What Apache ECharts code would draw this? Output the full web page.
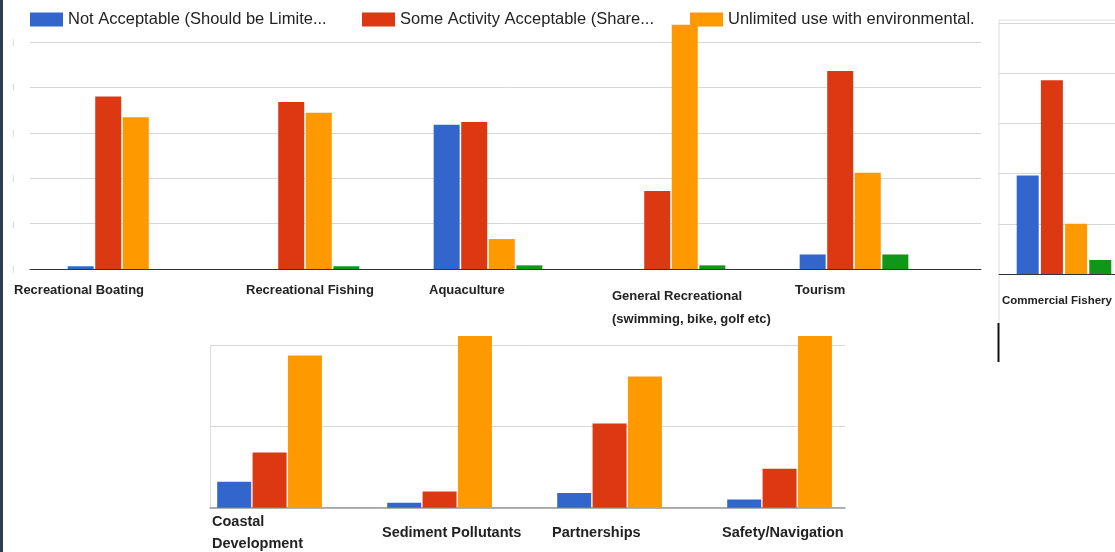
<!DOCTYPE html>
<html>
<head>
<meta charset="utf-8">
<script src="https://cdn.jsdelivr.net/npm/echarts@6/dist/echarts.min.js"></script>
<style>
  html, body { margin: 0; padding: 0; background: #fff; }
  #chart { width: 1115px; height: 552px; }
</style>
</head>
<body>
<div id="chart"></div>
<script>
// series names as shown (truncated) in the legend
const seriesNames = [
    'Not Acceptable (Should be Limite...',
    'Some Activity Acceptable (Share...',
    'Unlimited use with environmental.',
    'Other'
];
const colors = ['#3366cc', '#dc3912', '#ff9900', '#109618'];

// top panel
const categoriesTop = [
    'Recreational Boating',
    'Recreational Fishing',
    'Aquaculture',
    'General Recreational\n(swimming, bike, golf etc)',
    'Tourism'
];
const notAcceptableTop = [0.3, 0, 15.9, 0, 1.6];
const someActivityTop = [19.0, 18.4, 16.2, 8.6, 21.8];
const unlimitedTop = [16.7, 17.2, 3.3, 26.9, 10.6];
const otherTop = [0, 0.3, 0.4, 0.4, 1.6];

// right panel (cut off)
const categoriesRight = ['Commercial Fishery'];
const notAcceptableRight = [9.8];
const someActivityRight = [19.3];
const unlimitedRight = [5.0];
const otherRight = [1.4];

// bottom panel
const categoriesBottom = ['Coastal\nDevelopment', 'Sediment Pollutants', 'Partnerships', 'Safety/Navigation'];
const notAcceptableBottom = [1.6, 0.3, 0.9, 0.5];
const someActivityBottom = [3.4, 1.0, 5.2, 2.4];
const unlimitedBottom = [9.4, 10.6, 8.1, 10.6];
const otherBottom = [0, 0, 0, 0];

const font = 'Liberation Sans, Arial, sans-serif';
const gridLine = '#d6d6d6';

const chart = echarts.init(document.getElementById('chart'), null, { renderer: 'canvas' });

const hiddenAxis = {
    axisLine: { show: false },
    axisTick: { show: false },
    axisLabel: { show: false },
    splitLine: { show: false }
};

function bars(values, idx, axis, width, gap) {
    return {
        name: seriesNames[idx],
        type: 'bar',
        xAxisIndex: axis,
        yAxisIndex: axis,
        data: values,
        barWidth: width,
        barGap: gap,
        clip: false,
        itemStyle: { color: colors[idx] },
        silent: true
    };
}

// grid helper: keep exact placement (no outer-bounds shrinking in v6)
function grid(left, top, width, height) {
    return { left: left, top: top, width: width, height: height, containLabel: false, outerBoundsMode: 'none' };
}

const labelStyle = {
    fontFamily: font,
    fontWeight: 'bold',
    color: '#222',
    interval: 0
};

const legendBase = {
    top: 11,
    padding: 0,
    itemWidth: 33,
    itemHeight: 14,
    itemGap: 0,
    icon: 'rect',
    textStyle: { fontFamily: font, fontSize: 16.5, color: '#222' },
    selectedMode: false
};

let option = {
    animation: false,
    backgroundColor: '#fff',
    color: colors,
    legend: [
        Object.assign({}, legendBase, { left: 30, data: [seriesNames[0]] }),
        Object.assign({}, legendBase, { left: 362, data: [seriesNames[1]] }),
        Object.assign({}, legendBase, { left: 690, data: [seriesNames[2]] })
    ],
    grid: [
        grid(30, 42, 951, 227),           // 0 top frame (gridlines)
        grid(30.5, 14.76, 915, 254.24),   // 1 top bars
        grid(63, 249, 732, 20),           // 2 top labels (anchors at group starts)
        grid(999, 23, 116, 251),          // 3 right panel frame
        grid(210, 345.7, 635, 162),       // 4 bottom frame
        grid(202.25, 313.3, 680, 194.4),  // 5 bottom bars
        grid(212, 487.7, 510, 20),        // 6 bottom labels
        grid(1009, 23, 110, 251)          // 7 right panel bars
    ],
    xAxis: [
        {
            gridIndex: 0, type: 'value', min: 0, max: 1,
            axisLine: { show: true, lineStyle: { color: '#333', width: 1 } },
            axisTick: { show: false }, axisLabel: { show: false }, splitLine: { show: false }
        },
        Object.assign({ gridIndex: 1, type: 'category', data: categoriesTop }, hiddenAxis),
        {
            gridIndex: 2, type: 'category', boundaryGap: false,
            data: categoriesTop.map((c, i) => {
                if (i === 0) return { value: c, textStyle: { align: 'center', padding: [0, 0, 0, 32] } };
                if (i === 3) return { value: c, textStyle: { align: 'left', lineHeight: 23, padding: [5, 0, 0, 0] } };
                return c;
            }),
            axisLine: { show: false }, axisTick: { show: false }, splitLine: { show: false },
            axisLabel: Object.assign({}, labelStyle, {
                fontSize: 13, align: 'left', verticalAlign: 'top', lineHeight: 21, margin: 11,
                hideOverlap: false
            })
        },
        {
            gridIndex: 3, type: 'value', min: 0, max: 1,
            axisLine: { show: true, lineStyle: { color: '#333', width: 1 } },
            axisTick: { show: false }, axisLabel: { show: false }, splitLine: { show: false }
        },
        {
            gridIndex: 4, type: 'value', min: 0, max: 1,
            axisLine: { show: true, lineStyle: { color: '#999', width: 1.5 } },
            axisTick: { show: false }, axisLabel: { show: false }, splitLine: { show: false }
        },
        Object.assign({ gridIndex: 5, type: 'category', data: categoriesBottom }, hiddenAxis),
        {
            gridIndex: 6, type: 'category', boundaryGap: false, data: categoriesBottom,
            axisLine: { show: false }, axisTick: { show: false }, splitLine: { show: false },
            axisLabel: Object.assign({}, labelStyle, {
                fontSize: 14.5, align: 'left', verticalAlign: 'middle', lineHeight: 22, margin: 25
            })
        },
        {
            gridIndex: 7, type: 'category', data: categoriesRight,
            axisLine: { show: false }, axisTick: { show: false }, splitLine: { show: false },
            axisLabel: Object.assign({}, labelStyle, {
                fontSize: 11.5, align: 'center', verticalAlign: 'top', lineHeight: 21, margin: 16,
                padding: [0, 14, 0, 0]
            })
        }
    ],
    yAxis: [
        {
            gridIndex: 0, type: 'value', min: 0, max: 25, interval: 5,
            axisLine: { show: false }, axisTick: { show: false },
            axisLabel: { formatter: () => '|', fontSize: 7, color: '#bbb', margin: 16 },
            splitLine: { lineStyle: { color: gridLine } }
        },
        Object.assign({ gridIndex: 1, type: 'value', min: 0, max: 28 }, hiddenAxis),
        Object.assign({ gridIndex: 2, type: 'value', min: 0, max: 1 }, hiddenAxis),
        {
            gridIndex: 3, type: 'value', min: 0, max: 25, interval: 5,
            axisLine: { show: false }, axisTick: { show: false }, axisLabel: { show: false },
            splitLine: { lineStyle: { color: gridLine } }
        },
        {
            gridIndex: 4, type: 'value', min: 0, max: 10, interval: 5,
            axisLine: { show: true, lineStyle: { color: '#ddd' } },
            axisTick: { show: false }, axisLabel: { show: false },
            splitLine: { lineStyle: { color: gridLine } }
        },
        Object.assign({ gridIndex: 5, type: 'value', min: 0, max: 12 }, hiddenAxis),
        Object.assign({ gridIndex: 6, type: 'value', min: 0, max: 1 }, hiddenAxis),
        Object.assign({ gridIndex: 7, type: 'value', min: 0, max: 25 }, hiddenAxis)
    ],
    series: [
        bars(notAcceptableTop, 0, 1, 26, '6%'),
        bars(someActivityTop, 1, 1, 26, '6%'),
        bars(unlimitedTop, 2, 1, 26, '6%'),
        bars(otherTop, 3, 1, 26, '6%'),

        bars(notAcceptableRight, 0, 7, 22, '10%'),
        bars(someActivityRight, 1, 7, 22, '10%'),
        bars(unlimitedRight, 2, 7, 22, '10%'),
        bars(otherRight, 3, 7, 22, '10%'),

        bars(notAcceptableBottom, 0, 5, 34, '4%'),
        bars(someActivityBottom, 1, 5, 34, '4%'),
        bars(unlimitedBottom, 2, 5, 34, '4%'),
        bars(otherBottom, 3, 5, 34, '4%')
    ],
    graphic: [
        { type: 'rect', shape: { x: 0, y: 0, width: 3, height: 552 }, style: { fill: '#2e3d4f' }, silent: true },
        { type: 'line', shape: { x1: 999, y1: 20, x2: 999, y2: 323 }, style: { stroke: '#ddd', lineWidth: 1 }, silent: true },
        { type: 'line', shape: { x1: 999, y1: 20, x2: 1115, y2: 20 }, style: { stroke: '#e2e2e2', lineWidth: 1 }, silent: true },
        { type: 'line', shape: { x1: 998.5, y1: 323, x2: 998.5, y2: 362 }, style: { stroke: '#111', lineWidth: 2 }, silent: true }
    ]
};

option && chart.setOption(option);
</script>
</body>
</html>
